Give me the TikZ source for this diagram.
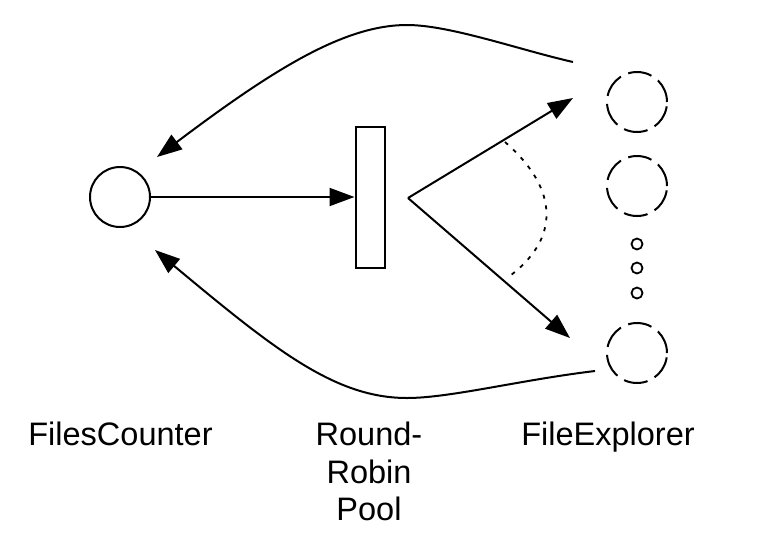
\documentclass[tikz,border=0pt]{standalone}
\usepackage{fontspec}
\setmainfont{Liberation Sans}
\usetikzlibrary{arrows.meta}
\tikzset{
	place/.style={circle, draw, line width=2pt, minimum size=60pt, inner sep=0pt},
	worker/.style={place, dash pattern=on 24pt off 8pt},
	dot/.style={circle, draw, line width=1.8pt, minimum size=11pt, inner sep=0pt},
	flow/.style={line width=2pt, -{Triangle[length=25pt, width=18pt]}},
	label/.style={font=\fontsize{32.5}{37.5}\selectfont, align=center, inner sep=0pt}
}

\begin{document}
\begin{tikzpicture}[x=1pt, y=-1pt]
		\useasboundingbox (0, 0) rectangle (778, 544);

		\node[place] (counter) at (120, 197) {};
		\node[draw, line width=2pt, minimum width=29pt, minimum height=141pt, inner sep=0pt] (pool) at (370, 197) {};

		\node[worker] (explorer1) at (637, 102) {};
		\node[worker] (explorer2) at (637, 186) {};
		\node[worker] (explorer3) at (637, 353) {};
		\node[dot] (dotA) at (637, 244) {};
		\node[dot] (dotB) at (637, 268) {};
		\node[dot] (dotC) at (637, 293) {};

		\coordinate (fork) at (408, 198);
		\coordinate (send1) at (573, 98);
		\coordinate (send3) at (570, 338);
		\coordinate (reply1) at (573, 62);
		\coordinate (reply3) at (595, 371);
		\coordinate (back1) at (157, 157);
		\coordinate (back3) at (155, 250);

		\draw[flow] (counter) -- (pool);
		\draw[flow] (fork) -- (send1);
		\draw[flow] (fork) -- (send3);
		\draw[line width=1.8pt, dash pattern=on 4pt off 7pt] (505, 142) .. controls (560, 190) and (560, 240) .. (507, 278);

		\draw[flow] (reply1) .. controls (520, 50) and (450, 25) .. (407, 25)
			.. controls (345, 25) and (275, 68) .. (back1);
		\draw[flow] (reply3) .. controls (520, 380) and (450, 398) .. (407, 398)
			.. controls (335, 398) and (275, 350) .. (back3);

		\node[label, anchor=base] (counterlabel) at (120.5, 445) {FilesCounter};
		\node[label, anchor=north] (poollabel) at (369, 422) {Round-\\Robin\\Pool};
		\node[label, anchor=base] (explorerlabel) at (608, 445) {FileExplorer};
	\end{tikzpicture}
\end{document}
